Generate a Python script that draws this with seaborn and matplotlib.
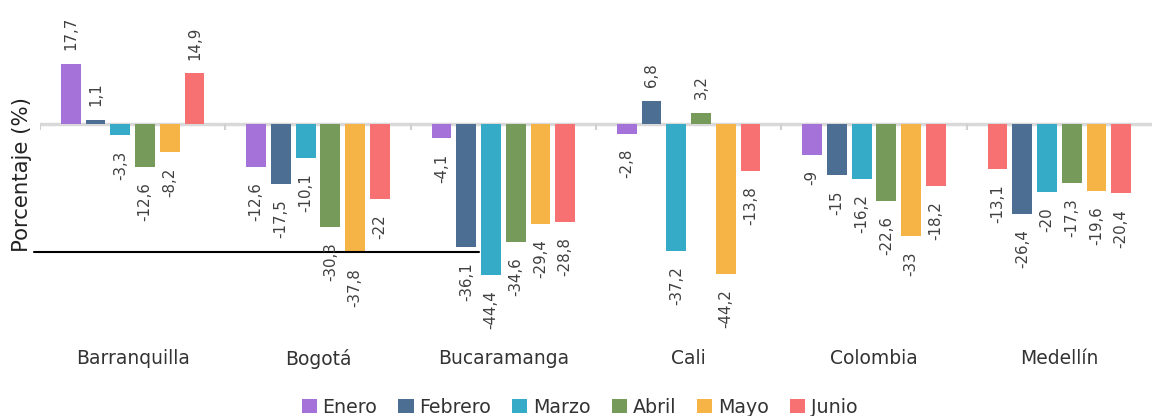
import numpy as np
import pandas as pd
import seaborn as sns
import matplotlib.pyplot as plt
import matplotlib.transforms as mtransforms

ciudades = ["Barranquilla", "Bogotá", "Bucaramanga", "Cali", "Colombia", "Medellín"]
meses = ["Enero", "Febrero", "Marzo", "Abril", "Mayo", "Junio"]
enero = [17.7, -12.6, -4.1, -2.8, -9, -13.1]
febrero = [1.1, -17.5, -36.1, 6.8, -15, -26.4]
marzo = [-3.3, -10.1, -44.4, -37.2, -16.2, -20]
abril = [-12.6, -30.3, -34.6, 3.2, -22.6, -17.3]
mayo = [-8.2, -37.8, -29.4, -44.2, -33, -19.6]
junio = [14.9, -22, -28.8, -13.8, -18.2, -20.4]
colores = ["#a472d9", "#4b6e92", "#35abc7", "#769a59", "#f7b446", "#f77172"]

series = [enero, febrero, marzo, abril, mayo, junio]
rows = []
for mes, vals in zip(meses, series):
    for c, v in zip(ciudades, vals):
        rows.append({"Ciudad": c, "Mes": mes, "Valor": v})
df = pd.DataFrame(rows)

sns.set_theme(style="white")
plt.rcParams["font.family"] = ["DejaVu Sans"]

fig = plt.figure(figsize=(11.52, 4.16), dpi=100)
ax = fig.add_axes([40 / 1152, 71 / 416, 1112 / 1152, 345 / 416])

sns.barplot(data=df, x="Ciudad", y="Valor", hue="Mes", palette=colores,
            saturation=1, width=0.8, gap=0.2, linewidth=0, ax=ax, legend=True)

# the first Medellín bar is drawn in the Junio colour in the original
ax.containers[0][5].set_facecolor(colores[5])

for cont in ax.containers:
    for bar in cont:
        h = bar.get_height()
        x = bar.get_x() + bar.get_width() / 2
        lab = ("%g" % h).replace(".", ",")
        if h >= 0:
            ax.annotate(lab, (x, h), xytext=(0, 10), textcoords="offset points",
                        rotation=90, ha="center", va="bottom", fontsize=10.8,
                        color="#404040")
        else:
            ax.annotate(lab, (x, h), xytext=(0, -11), textcoords="offset points",
                        rotation=90, ha="center", va="top", fontsize=10.8,
                        color="#404040")

ax.set_ylim(-65, 36.5)
ax.set_xlim(-0.5, len(ciudades) - 0.5)
ax.axhline(0, color="#d9d9d9", lw=2.5, zorder=0)
bordes = np.arange(len(ciudades)) - 0.5
ax.vlines(bordes, -1.6, 0, color="#d0d0d0", lw=1.5, zorder=0)

# stray black line in the original chart
trans = mtransforms.blended_transform_factory(ax.transAxes, ax.transData)
ax.plot([-0.005, 0.395], [-37.6, -37.6], color="black", lw=1.5,
        transform=trans, clip_on=False)

for s in ax.spines.values():
    s.set_visible(False)
ax.set_yticks([])
ax.set_xlabel("")
ax.set_ylabel("")
ax.tick_params(axis="x", length=0, pad=3, labelsize=13.5, labelcolor="#333333")

fig.text(22 / 1152, 1 - 175 / 416, "Porcentaje (%)", rotation=90,
         ha="center", va="center", fontsize=15.3, color="#222222")

handles, labels = ax.get_legend_handles_labels()
ax.legend_.remove()
fig.legend(handles, labels, loc="lower center", bbox_to_anchor=(0.503, -0.043),
           ncol=6, frameon=False, handlelength=0.8, handleheight=0.8,
           handletextpad=0.3, columnspacing=1.1, fontsize=13.7,
           labelcolor="#333333")

fig.savefig("out.png", dpi=100)
